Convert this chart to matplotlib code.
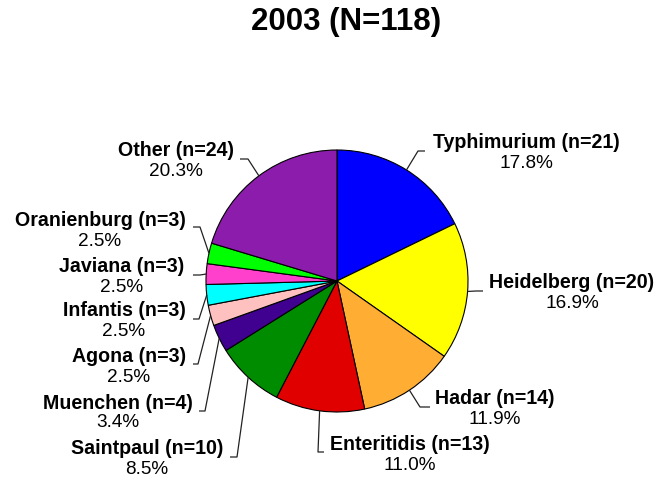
import matplotlib
matplotlib.use("Agg")
import matplotlib.pyplot as plt
import numpy as np

# Salmonella serotypes, 2003
serotypes = ["Typhimurium", "Heidelberg", "Hadar", "Enteritidis", "Saintpaul",
             "Muenchen", "Agona", "Infantis", "Javiana", "Oranienburg", "Other"]
counts = [21, 20, 14, 13, 10, 4, 3, 3, 3, 3, 24]
colors = ["#0000FF", "#FFFF00", "#FFAD33", "#E00000", "#008C00",
          "#400090", "#FFC0C0", "#00FFFF", "#FF40CC", "#00FF00", "#8C1CAC"]

W, H = 671, 481
total = sum(counts)

# label layout in pixel coords (top-down): text centre x, name y, pct y,
# leader elbow (x, y) and end x
layout = {
    "Typhimurium": (526, 142, 163, (418, 152), 425),
    "Heidelberg":  (572, 283, 304, (476, 292), 483),
    "Hadar":       (495, 399, 420, (420, 408), 430),
    "Enteritidis": (410, 445, 466, (318, 453), 324),
    "Saintpaul":   (147, 449, 470, (237, 458), 230),
    "Muenchen":    (118, 404, 423, (205, 412), 199),
    "Agona":       (129, 357, 378, (198, 365), 193),
    "Infantis":    (124, 310, 331, (199, 320), 193),
    "Javiana":     (122, 267, 288, (200, 276), 193),
    "Oranienburg": (100, 220, 242, (200, 228), 193),
    "Other":       (176, 150, 172, (248, 160), 240),
}

fig = plt.figure(figsize=(W / 100, H / 100), dpi=100)
ax = fig.add_axes([0, 0, 1, 1])

wedges, _ = ax.pie(counts, colors=colors, startangle=90, counterclock=False,
                   center=(337, H - 282), radius=131,
                   wedgeprops=dict(edgecolor="black", linewidth=0.8))
ax.set_xlim(0, W)
ax.set_ylim(0, H)
ax.set_aspect("equal")
ax.axis("off")

for w, name, n in zip(wedges, serotypes, counts):
    cx, ny, py, (ex, ey), lx = layout[name]
    mid = np.deg2rad((w.theta1 + w.theta2) / 2)
    sx = w.center[0] + w.r * np.cos(mid)
    sy = w.center[1] + w.r * np.sin(mid)
    ax.plot([sx, ex, lx], [sy, H - ey, H - ey], color="#222222", lw=0.9,
            solid_capstyle="butt")
    ax.text(cx, H - ny, f"{name} (n={n})", ha="center", va="center",
            fontsize=14.1, fontweight="bold", family="Liberation Sans")
    ax.text(cx, H - py, f"{100 * n / total:.1f}%", ha="center", va="center",
            fontsize=13.7, family="Liberation Sans")

ax.text(346, H - 22, f"2003 (N={total})", ha="center", va="center",
        fontsize=22.5, fontweight="bold", family="Liberation Sans")

fig.savefig("out.png", dpi=100)
